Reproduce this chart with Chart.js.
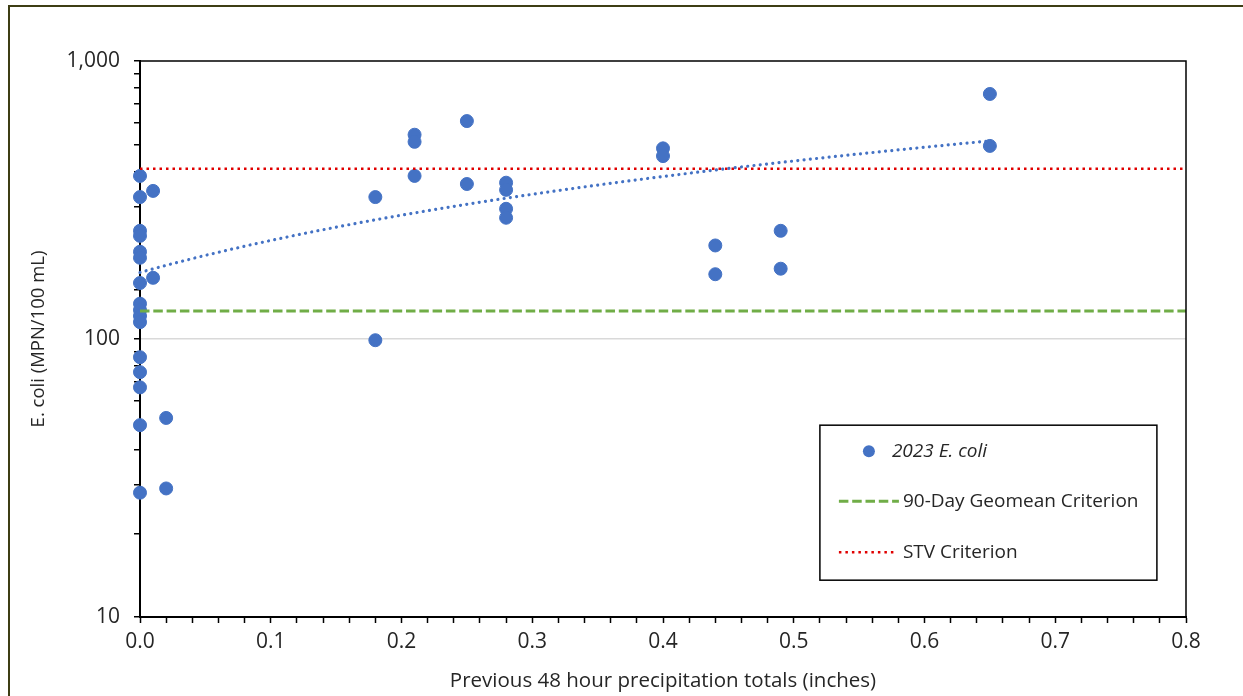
<!DOCTYPE html>
<html>
<head>
<meta charset="utf-8">
<script src="https://cdn.jsdelivr.net/npm/chart.js@4.4.0/dist/chart.umd.min.js"></script>
<style>
  html, body { margin: 0; padding: 0; background: #fff; }
  #wrap { width: 1243px; height: 696px; }
</style>
</head>
<body>
<div id="wrap"><canvas id="myChart" width="1243" height="696"></canvas></div>
<script>
// precipitation (inches) and E. coli (MPN/100 mL)
const precip = [0, 0, 0, 0, 0, 0, 0, 0, 0, 0, 0, 0, 0, 0, 0, 0,
  0.01, 0.01, 0.02, 0.02, 0.18, 0.18, 0.21, 0.21, 0.21, 0.25, 0.25,
  0.28, 0.28, 0.28, 0.28, 0.40, 0.40, 0.44, 0.44, 0.49, 0.49, 0.65, 0.65];
const ecoli = [386, 324, 245, 235, 206, 196, 159, 134, 127, 121, 115, 86, 76, 67, 49, 28,
  341, 166, 52, 29, 324, 99, 543, 512, 386, 608, 361,
  365, 344, 294, 273, 485, 455, 217, 171, 245, 179, 761, 495];

const geomeanCriterion = 126;
const stvCriterion = 410;
const xRange = [0, 0.8];
const yRange = [10, 1000];
const yLabelValues = [10, 100, 1000];

const blue = '#4472C4';
const green = '#70AD47';
const red = '#E00000';

const points = precip.map((x, i) => ({ x: x, y: ecoli[i] }));

// linear trendline (least squares), like the spreadsheet one
const n = precip.length;
const mx = precip.reduce((a, b) => a + b, 0) / n;
const my = ecoli.reduce((a, b) => a + b, 0) / n;
let sxy = 0, sxx = 0;
for (let i = 0; i < n; i++) {
  sxy += (precip[i] - mx) * (ecoli[i] - my);
  sxx += (precip[i] - mx) * (precip[i] - mx);
}
const slope = sxy / sxx;
const intercept = my - slope * mx;
const xMaxData = Math.max(...precip);
const trend = [];
for (let k = 0; k <= 100; k++) {
  const x = xMaxData * k / 100;
  trend.push({ x: x, y: intercept + slope * x });
}

Chart.defaults.font.family = "'Open Sans', sans-serif";
Chart.defaults.color = '#262626';

const frameAndLegend = {
  id: 'frameAndLegend',
  afterDraw(chart) {
    const ctx = chart.ctx;
    const a = chart.chartArea;
    ctx.save();
    // outer frame
    ctx.strokeStyle = '#3d3d14';
    ctx.lineWidth = 2;
    ctx.beginPath();
    ctx.moveTo(9, 700);
    ctx.lineTo(9, 6);
    ctx.lineTo(1250, 6);
    ctx.stroke();
    // top & right of plot area
    ctx.strokeStyle = '#000';
    ctx.lineWidth = 1.5;
    ctx.beginPath();
    ctx.moveTo(a.left, a.top);
    ctx.lineTo(a.right, a.top);
    ctx.lineTo(a.right, a.bottom);
    ctx.stroke();

    // legend box
    const w = a.right - a.left, h = a.bottom - a.top;
    const bx = a.left + w * 0.65, by = a.top + h * 0.655;
    const bw = 337, bh = 155;
    ctx.fillStyle = '#fff';
    ctx.fillRect(bx, by, bw, bh);
    ctx.strokeStyle = '#000';
    ctx.lineWidth = 1.5;
    ctx.strokeRect(bx, by, bw, bh);

    ctx.textBaseline = 'middle';
    const y1 = by + 26, y2 = by + 76, y3 = by + 127;
    // item 1
    ctx.fillStyle = blue;
    ctx.beginPath();
    ctx.arc(bx + 49, y1, 6, 0, Math.PI * 2);
    ctx.fill();
    ctx.fillStyle = '#262626';
    ctx.font = "italic 19px 'Open Sans', sans-serif";
    ctx.fillText('2023 E. coli', bx + 72, y1);
    // item 2
    ctx.strokeStyle = green;
    ctx.lineWidth = 3;
    ctx.setLineDash([9.5, 3.8]);
    ctx.beginPath();
    ctx.moveTo(bx + 19, y2);
    ctx.lineTo(bx + 79, y2);
    ctx.stroke();
    ctx.font = "19px 'Open Sans', sans-serif";
    ctx.fillText('90-Day Geomean Criterion', bx + 83, y2);
    // item 3
    ctx.strokeStyle = red;
    ctx.lineWidth = 2.5;
    ctx.setLineDash([2.5, 4]);
    ctx.beginPath();
    ctx.moveTo(bx + 19, y3);
    ctx.lineTo(bx + 76, y3);
    ctx.stroke();
    ctx.setLineDash([]);
    ctx.fillText('STV Criterion', bx + 83, y3);
    ctx.restore();
  }
};

new Chart(document.getElementById('myChart'), {
  type: 'scatter',
  data: {
    datasets: [
      {
        label: '2023 E. coli',
        data: points,
        backgroundColor: blue,
        borderColor: blue,
        pointRadius: 6.5,
        pointHoverRadius: 6.5,
        clip: false,
        order: 4
      },
      {
        label: 'Trend',
        data: trend,
        showLine: true,
        pointRadius: 0,
        borderColor: blue,
        borderWidth: 3.2,
        borderDash: [0.001, 6.3],
        borderCapStyle: 'round',
        clip: false,
        order: 1
      },
      {
        label: '90-Day Geomean Criterion',
        data: [{ x: xRange[0], y: geomeanCriterion }, { x: xRange[1], y: geomeanCriterion }],
        showLine: true,
        pointRadius: 0,
        borderColor: green,
        borderWidth: 3,
        borderDash: [9.5, 3.8],
        clip: false,
        order: 2
      },
      {
        label: 'STV Criterion',
        data: [{ x: xRange[0], y: stvCriterion }, { x: xRange[1], y: stvCriterion }],
        showLine: true,
        pointRadius: 0,
        borderColor: red,
        borderWidth: 2.5,
        borderDash: [2.5, 4],
        clip: false,
        order: 3
      }
    ]
  },
  options: {
    responsive: false,
    animation: false,
    layout: { padding: { top: 61, right: 57, left: 0, bottom: 0 } },
    plugins: {
      legend: { display: false },
      tooltip: { enabled: false }
    },
    scales: {
      x: {
        type: 'linear',
        min: xRange[0],
        max: xRange[1],
        afterFit: (s) => { s.height = 79; },
        border: { color: '#000', width: 2 },
        grid: { drawOnChartArea: false, tickColor: '#000', tickLength: 6, tickWidth: 1.5 },
        ticks: {
          stepSize: 0.02,
          autoSkip: false,
          maxRotation: 0,
          padding: 6,
          font: { size: 21 },
          callback: (v) => (Math.round(v * 100) % 10 === 0 ? v.toFixed(1) : '')
        },
        title: {
          display: true,
          text: 'Previous 48 hour precipitation totals (inches)',
          font: { size: 20.5 },
          padding: { top: 0, bottom: 3 }
        }
      },
      y: {
        type: 'logarithmic',
        min: yRange[0],
        max: yRange[1],
        afterFit: (s) => { s.width = 140; },
        border: { color: '#000', width: 2 },
        grid: {
          color: (c) => (c.tick && c.tick.value === 100 ? '#d9d9d9' : 'rgba(0,0,0,0)'),
          lineWidth: 1.5,
          tickColor: '#000',
          tickLength: 6,
          tickWidth: 1.5
        },
        ticks: {
          autoSkip: false,
          padding: 14,
          font: { size: 21 },
          callback: (v) => (yLabelValues.includes(v) ? v.toLocaleString('en-US') : '')
        },
        title: {
          display: true,
          text: 'E. coli (MPN/100 mL)',
          font: { size: 18.5 },
          padding: { top: 28, bottom: 0 }
        }
      }
    }
  },
  plugins: [frameAndLegend]
});
</script>
</body>
</html>
